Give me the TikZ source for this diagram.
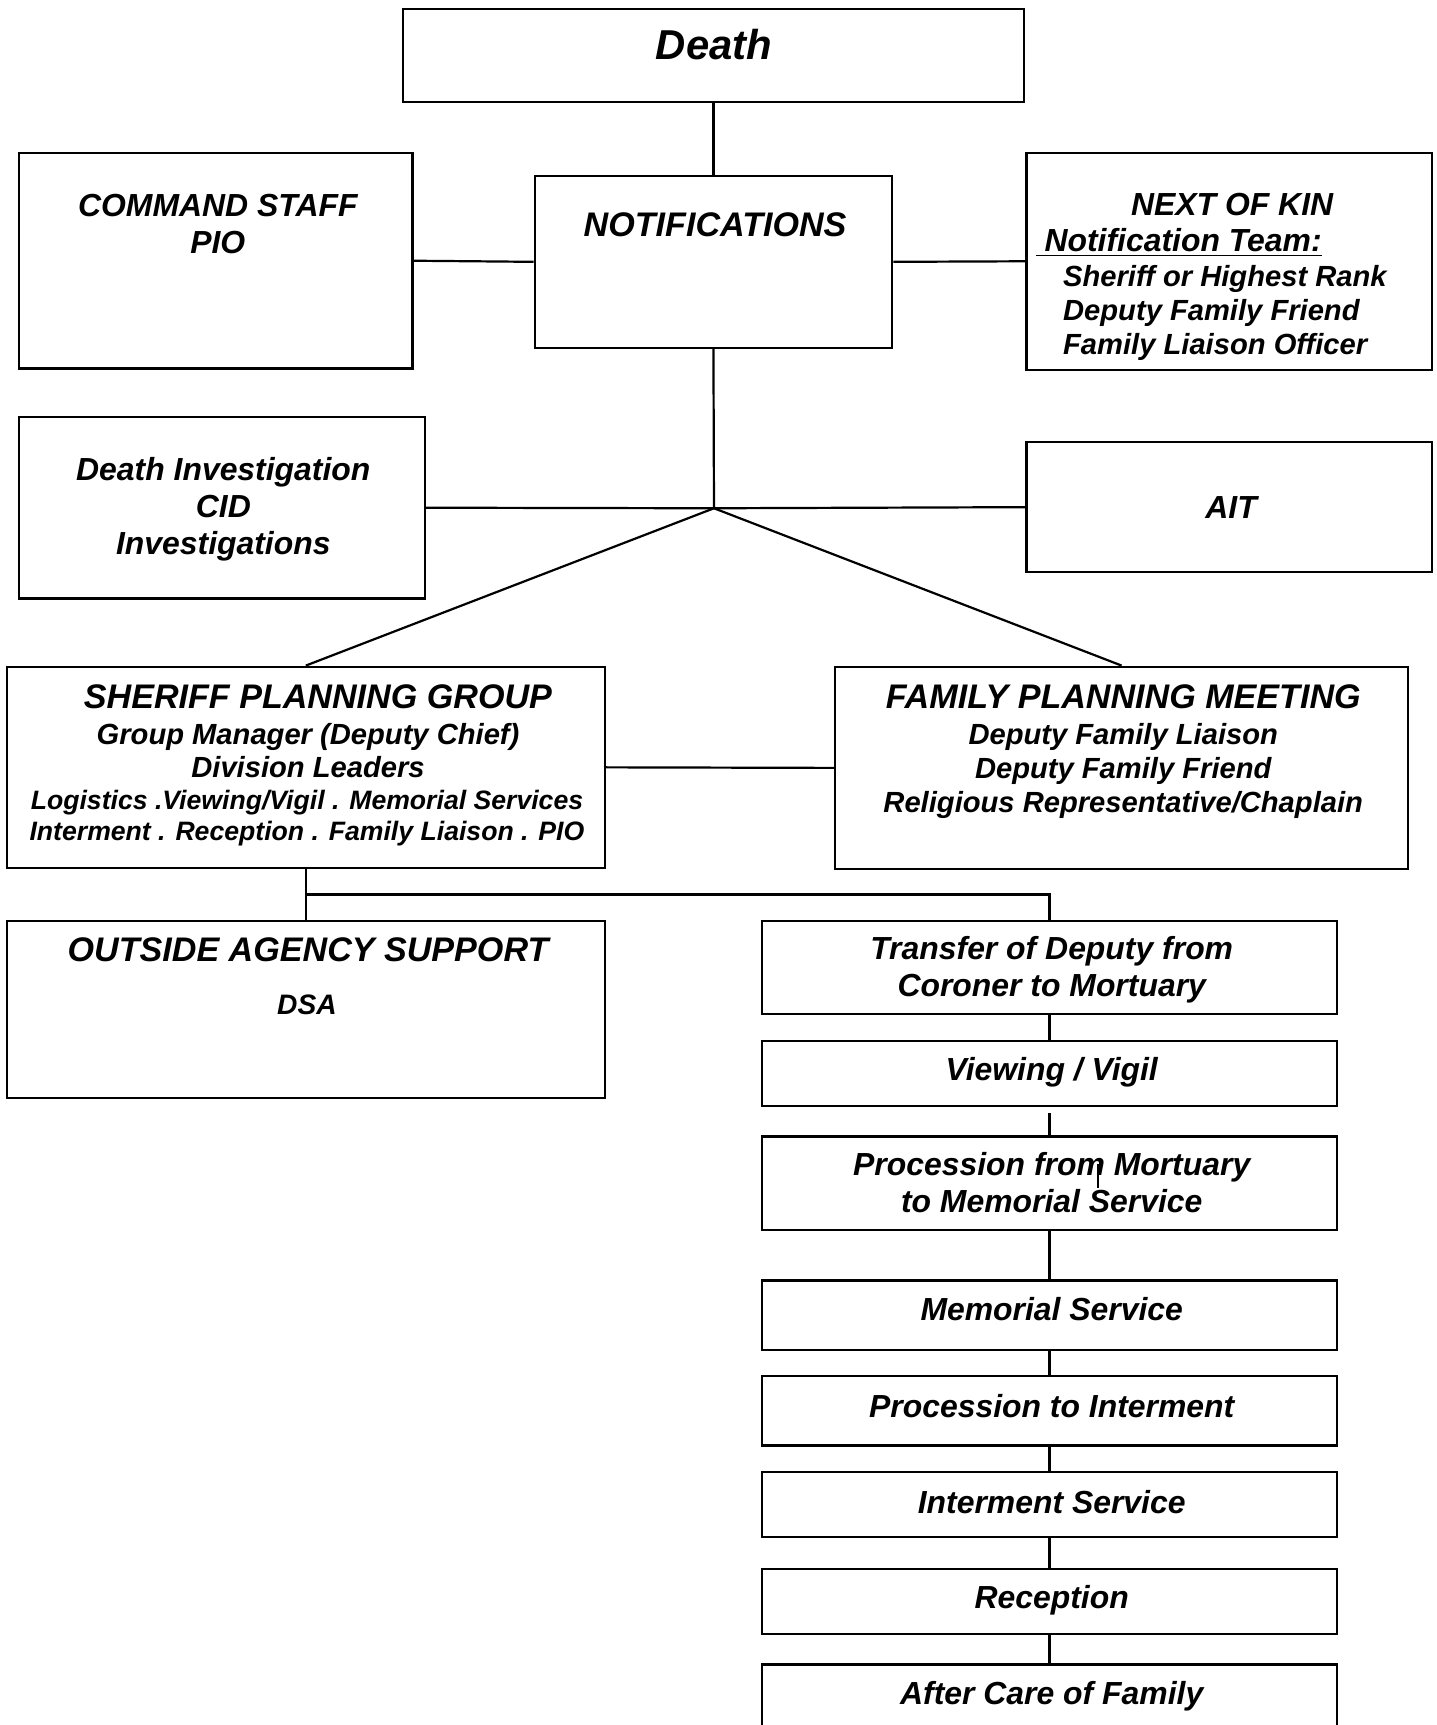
\documentclass[tikz,border=0pt]{standalone}
\usepackage{fontspec}
\setmainfont{Liberation Sans}
\usetikzlibrary{fit}
\newcommand\myfs[2]{\fontsize{#1}{#2}\selectfont\bfseries\itshape}
\begin{document}
\begin{tikzpicture}[x=0.5pt,y=-0.5pt,
  box/.style={draw, line width=1pt, inner sep=0pt},
  conn/.style={line width=1pt},
  txt/.style={inner sep=0pt, align=center},
  big/.style={font=\myfs{15.5}{17}},
  mid/.style={font=\myfs{14.5}{17}},
  sml/.style={font=\myfs{13.25}{15.5}}]
\clip (0,0) rectangle (1306,1568);
\fill[white] (0,0) rectangle (1306,1568);
% boxes
\node[box, fit={(366,8)(931,93)}] (death) {};
\node[box, fit={(486,160)(811,316)}] (notif) {};
\node[box, fit={(17,139)(375,335)}] (cmd) {};
\node[box, fit={(933,139)(1302,336)}] (nok) {};
\node[box, fit={(17,379)(386,544)}] (dinv) {};
\node[box, fit={(933,402)(1302,520)}] (ait) {};
\node[box, fit={(6,606)(550,789)}] (spg) {};
\node[box, fit={(759,606)(1280,790)}] (fpm) {};
\node[box, fit={(6,837)(550,998)}] (oas) {};
\node[box, fit={(693,837)(1215,922)}] (trans) {};
\node[box, fit={(693,946)(1215,1005)}] (view) {};
\node[box, fit={(693,1033)(1215,1118)}] (proc) {};
\node[box, fit={(693,1164)(1215,1227)}] (memo) {};
\node[box, fit={(693,1251)(1215,1314)}] (procint) {};
\node[box, fit={(693,1338)(1215,1397)}] (intserv) {};
\node[box, fit={(693,1426)(1215,1485)}] (recep) {};
\node[box, fit={(693,1513)(1215,1610)}] (after) {};
% texts (anchor=base is the baseline of the last line)
\node[txt, anchor=base, font=\myfs{19}{23}] (deathT) at (649,54) {Death};
\node[txt, anchor=base, big] (notifT) at (650,215) {NOTIFICATIONS};
\node[txt, anchor=base, mid] (cmdT) at (198,230.4) {COMMAND STAFF\\PIO};
\node[txt, anchor=base, mid] (nokA) at (1120,196) {NEXT OF KIN};
\node[txt, anchor=base west, mid] (nokB) at (941,229) {\underline{\ Notification Team:}};
\node[txt, anchor=base west, align=left, font=\myfs{13.25}{15.5}] (nokC) at (966,322.5) {Sheriff or Highest Rank\\Deputy Family Friend\\Family Liaison Officer};
\node[txt, anchor=base, mid] (dinvT) at (203,504.4) {Death Investigation\\CID\\Investigations};
\node[txt, anchor=base, mid] (aitT) at (1119,471) {AIT};
\node[txt, anchor=base, big] (spgT) at (289,644) {SHERIFF PLANNING GROUP};
\node[txt, anchor=base, font=\myfs{13.25}{15}] (spgA) at (280,706.5) {Group Manager (Deputy Chief)\\Division Leaders};
\node[txt, anchor=base, font=\myfs{12.1}{14}] (spgB) at (279,763.7) {Logistics .Viewing/Vigil . Memorial Services\\Interment . Reception . Family Liaison . PIO};
\node[txt, anchor=base, big] (fpmT) at (1021,644) {FAMILY PLANNING MEETING};
\node[txt, anchor=base, font=\myfs{13.25}{15.5}] (fpmA) at (1021,738.5) {Deputy Family Liaison\\Deputy Family Friend\\Religious Representative/Chaplain};
\node[txt, anchor=base, big] (oasT) at (280,874) {OUTSIDE AGENCY SUPPORT};
\node[txt, anchor=base, font=\myfs{12.8}{15}] (oasA) at (279,922) {DSA};
\node[txt, anchor=base, font=\myfs{14.5}{16.5}] (transT) at (956,905.4) {Transfer of Deputy from\\Coroner to Mortuary};
\node[txt, anchor=base, mid] (viewT) at (956,982.4) {Viewing / Vigil};
\node[txt, anchor=base, mid] (procT) at (956,1102.4) {Procession from Mortuary\\to Memorial Service};
\node[txt, anchor=base, mid] (memoT) at (956,1200.4) {Memorial Service};
\node[txt, anchor=base, mid] (procintT) at (956,1288.4) {Procession to Interment};
\node[txt, anchor=base, mid] (intservT) at (956,1375.4) {Interment Service};
\node[txt, anchor=base, mid] (recepT) at (956,1462.4) {Reception};
\node[txt, anchor=base, mid] (afterT) at (956,1549.4) {After Care of Family};
% connectors
\coordinate (hub) at (649,462);
\coordinate (split) at (278,813);
\coordinate (vgap) at (954,1012);
\coordinate (s1) at (998,1058);
\coordinate (s2) at (998,1080);
\draw[conn] (death.south) -- (notif.north);
\draw[conn] (cmd.east) -- (notif.west);
\draw[conn] (notif.east) -- (nok.west);
\draw[conn] (notif.south) -- (hub);
\draw[conn] (dinv.east) -- (hub) -- (ait.west);
\draw[conn] (hub) -- (spg.north);
\draw[conn] (hub) -- (fpm.north);
\draw[conn] (spg.east) -- (fpm.west);
\draw[conn] (spg.south) -- (oas.north);
\draw[conn] (split) -| (trans.north);
\draw[conn] (trans.south) -- (view.north);
\draw[conn] (vgap) -- (proc.north);
\draw[conn] (s1) -- (s2);
\draw[conn] (proc.south) -- (memo.north);
\draw[conn] (memo.south) -- (procint.north);
\draw[conn] (procint.south) -- (intserv.north);
\draw[conn] (intserv.south) -- (recep.north);
\draw[conn] (recep.south) -- (after.north);
\end{tikzpicture}
\end{document}
